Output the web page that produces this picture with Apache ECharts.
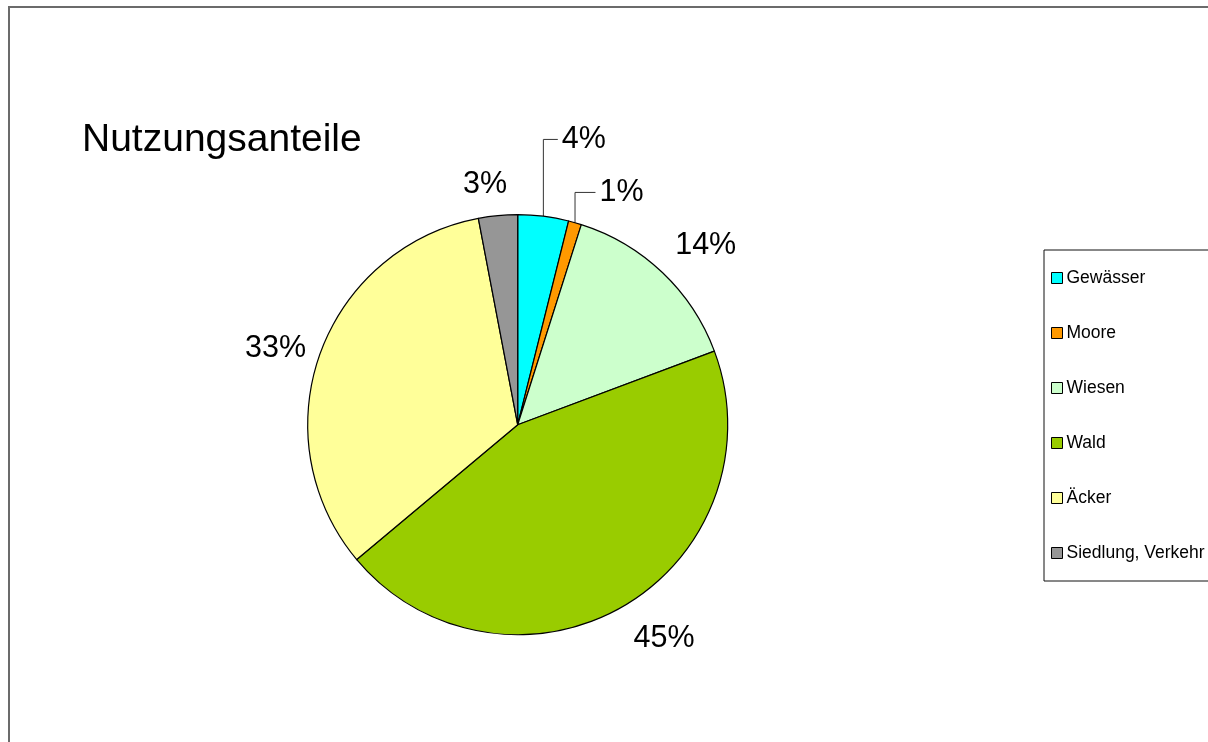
<!DOCTYPE html>
<html>
<head>
<meta charset="utf-8">
<script src="https://cdn.jsdelivr.net/npm/echarts@6/dist/echarts.min.js"></script>
<style>
  html, body { margin: 0; padding: 0; background: #fff; }
  #chart { width: 1208px; height: 742px; }
</style>
</head>
<body>
<div id="chart"></div>
<script>
// ---- data ----
const categories = ['Gewässer', 'Moore', 'Wiesen', 'Wald', 'Äcker', 'Siedlung, Verkehr'];
const shares = [3.9, 1.0, 14.4, 44.6, 33.1, 3.0];   // percent
const titleText = 'Nutzungsanteile';

// ---- styles ----
const colors = ['#00FFFF', '#FF9900', '#CCFFCC', '#99CC00', '#FFFF99', '#969696'];
const labelNudge = [[11, -57], [14, -11], [-6, -12], [-5, 15], [10, 1], [16, -11]];
const leaderLine = [true, true, false, false, false, false];
const FONT = '"Liberation Sans", Arial, sans-serif';

const chart = echarts.init(document.getElementById('chart'), null, { renderer: 'canvas' });

const pieData = categories.map((name, i) => ({
  name: name,
  value: shares[i],
  itemStyle: { color: colors[i] },
  labelLine: { show: leaderLine[i] }
}));

chart.setOption({
  animation: false,
  backgroundColor: '#ffffff',
  graphic: [{
    type: 'rect',
    z: -10,
    shape: { x: 9, y: 7, width: 1400, height: 1000 },
    style: { fill: 'none', stroke: '#6b6b6b', lineWidth: 2 }
  }],
  title: {
    text: titleText,
    left: 82,
    top: 121,
    padding: 0,
    textStyle: { fontFamily: FONT, fontSize: 39, fontWeight: 'normal', color: '#000' }
  },
  legend: {
    orient: 'vertical',
    left: 1044,
    top: 250,
    padding: [19, 60, 19, 7],
    itemGap: 37,
    itemWidth: 11,
    itemHeight: 11,
    icon: 'rect',
    borderColor: '#111',
    borderWidth: 1,
    backgroundColor: '#fff',
    selectedMode: false,
    itemStyle: { borderColor: '#000', borderWidth: 1 },
    textStyle: { fontFamily: FONT, fontSize: 17.5, color: '#000', padding: [0, 0, 0, -1] },
    data: categories
  },
  series: [{
    type: 'pie',
    center: [517.7, 424.7],
    radius: 210,
    startAngle: 90,
    clockwise: true,
    avoidLabelOverlap: false,
    silent: true,
    emphasis: { disabled: true },
    itemStyle: { borderColor: '#000', borderWidth: 1.2 },
    label: {
      show: true,
      position: 'outside',
      distanceToLabelLine: 5,
      fontFamily: FONT,
      fontSize: 30.5,
      color: '#000',
      formatter: p => Math.round(p.value) + '%'
    },
    labelLine: {
      length: 20,
      length2: 0,
      lineStyle: { color: '#333', width: 1 }
    },
    labelLayout: function (params) {
      const i = params.dataIndex;
      const n = labelNudge[i];
      const r = params.labelRect;
      const res = { dx: n[0], dy: n[1] };
      if (leaderLine[i] && params.labelLinePoints) {
        const p0 = params.labelLinePoints[0];
        const ly = r.y + r.height / 2 + n[1];
        const lx = r.x + n[0] - 4;
        res.labelLinePoints = [[p0[0], p0[1]], [p0[0], ly], [lx, ly]];
      }
      return res;
    },
    data: pieData
  }]
});
</script>
</body>
</html>
